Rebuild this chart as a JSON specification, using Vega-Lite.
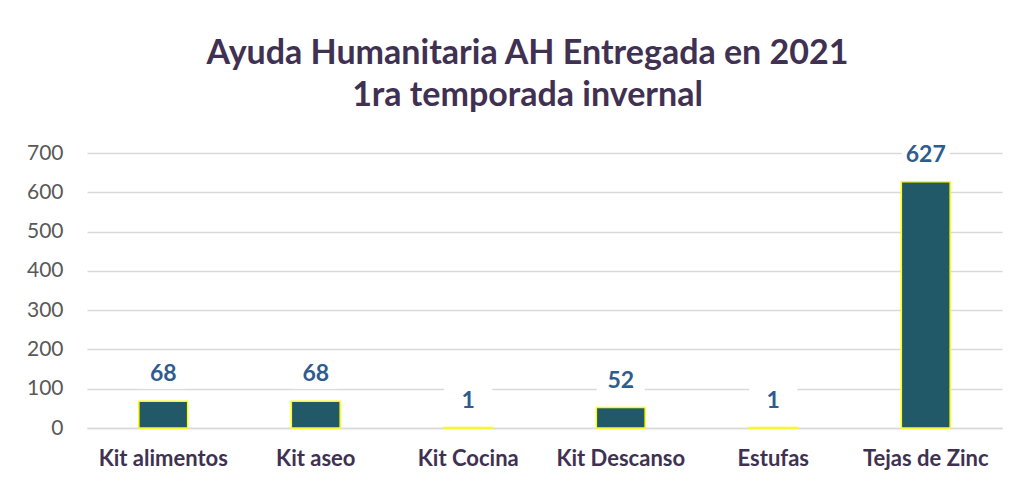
{
  "$schema": "https://vega.github.io/schema/vega-lite/v6.json",
  "width": 915,
  "height": 275,
  "autosize": {"type": "none"},
  "padding": {"left": 87, "top": 153, "right": 29, "bottom": 55},
  "background": "white",
  "title": {
    "text": ["Ayuda Humanitaria AH Entregada en 2021", "1ra temporada invernal"],
    "font": "Lato",
    "fontSize": 34,
    "fontWeight": "bold",
    "color": "#403152",
    "anchor": "middle",
    "dx": -17,
    "lineHeight": 42,
    "offset": 27
  },
  "data": {
    "values": [
      {"categoria": "Kit alimentos", "cantidad": 68},
      {"categoria": "Kit aseo", "cantidad": 68},
      {"categoria": "Kit Cocina", "cantidad": 1},
      {"categoria": "Kit Descanso", "cantidad": 52},
      {"categoria": "Estufas", "cantidad": 1},
      {"categoria": "Tejas de Zinc", "cantidad": 627}
    ]
  },
  "encoding": {
    "x": {
      "field": "categoria",
      "type": "nominal",
      "sort": null,
      "scale": {"paddingInner": 0.68, "paddingOuter": 0.34},
      "axis": {
        "title": null,
        "labelAngle": 0,
        "labelFont": "Lato",
        "labelFontSize": 22,
        "labelFontWeight": "bold",
        "labelColor": "#403152",
        "labelPadding": 20,
        "ticks": false,
        "domainColor": "#D9D9D9",
        "domainWidth": 1.5,
        "grid": false
      }
    },
    "y": {
      "field": "cantidad",
      "type": "quantitative",
      "scale": {"domain": [0, 700], "nice": false},
      "axis": {
        "title": null,
        "values": [0, 100, 200, 300, 400, 500, 600, 700],
        "labelFont": "Lato",
        "labelFontSize": 21,
        "labelColor": "#595959",
        "labelPadding": 24,
        "ticks": false,
        "domain": false,
        "gridColor": "#D9D9D9",
        "gridWidth": 1.5
      }
    }
  },
  "layer": [
    {
      "mark": {"type": "bar", "color": "#215968", "stroke": "#FFFF00", "strokeWidth": 1.5}
    },
    {
      "mark": {
        "type": "point",
        "shape": "M-1,-0.6H1V0.6H-1Z",
        "filled": true,
        "color": "white",
        "opacity": 1,
        "size": 2300,
        "yOffset": -27
      }
    },
    {
      "mark": {
        "type": "text",
        "font": "Lato",
        "fontSize": 23,
        "fontWeight": "bold",
        "color": "#2E5C8F",
        "baseline": "middle",
        "dy": -27
      },
      "encoding": {"text": {"field": "cantidad", "type": "quantitative"}}
    }
  ],
  "config": {"view": {"stroke": null}}
}
